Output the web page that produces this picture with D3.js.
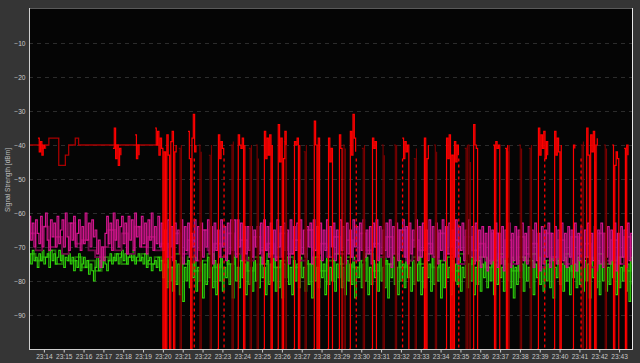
<!DOCTYPE html>
<html><head><meta charset="utf-8">
<script src="https://cdn.jsdelivr.net/npm/d3@7"></script>
<style>html,body{margin:0;padding:0;background:#353535;}svg{display:block;}</style>
</head><body>
<svg id="chart" width="640" height="363"></svg>
<script>
// ---- data ----
const startTime = "23:13:15";
const endTime = "23:43:39";
const sampleSeconds = 5;       // magenta / green sampling
const darkSampleSeconds = 20;  // companion series sampling
const baselineSeconds = 10;    // dark red baseline sampling
const redStepSeconds = 4;      // red burst sampling
const yTicks = [-10, -20, -30, -40, -50, -60, -70, -80, -90];
const yTitle = "Signal Strength [dBm]";

const magenta = [
  -61,-68,-63,-70,-62,-66,-69,-61,-70,-64,-60,-68,-71,-62,-67,-63,-70,-61,-69,-65,
  -62,-70,-60,-67,-71,-63,-68,-61,-70,-66,-62,-71,-64,-69,-60,-68,-63,-70,-62,-67,
  -65,-72,-68,-76,-70,-74,-66,-61,-69,-63,-71,-60,-68,-62,-70,-64,-61,-69,-63,-72,
  -61,-68,-62,-71,-60,-67,-64,-70,-61,-69,-63,-72,-62,-68,-60,-71,-64,-69,-61,-70,
  -63,-71,-65,-73,-62,-70,-64,-74,-63,-69,-65,-72,-62,-75,-64,-71,-63,-73,-66,-70,
  -62,-74,-64,-71,-63,-73,-65,-70,-62,-72,-64,-75,-63,-71,-65,-73,-62,-70,-64,-74,
  -63,-72,-62,-71,-62,-73,-62,-70,-63,-74,-64,-72,-64,-71,-64,-73,-65,-70,-64,-72,
  -63,-75,-62,-71,-64,-73,-63,-72,-65,-74,-62,-70,-64,-73,-63,-71,-65,-75,-62,-72,
  -64,-71,-63,-74,-62,-72,-65,-73,-64,-70,-63,-75,-62,-71,-64,-72,-63,-74,-65,-71,
  -62,-73,-64,-70,-63,-74,-65,-72,-62,-71,-64,-75,-63,-72,-65,-73,-62,-70,-64,-74,
  -63,-71,-62,-73,-65,-72,-64,-75,-63,-70,-62,-74,-64,-72,-65,-71,-63,-73,-62,-76,
  -64,-72,-63,-74,-65,-71,-62,-73,-64,-75,-63,-72,-65,-70,-62,-74,-64,-73,-63,-71,
  -65,-74,-62,-72,-64,-73,-63,-75,-65,-71,-62,-74,-64,-72,-63,-70,-65,-73,-62,-75,
  -64,-71,-63,-74,-65,-72,-62,-73,-64,-75,-63,-74,-65,-76,-64,-73,-66,-77,-64,-75,
  -65,-74,-63,-76,-66,-75,-64,-77,-65,-73,-63,-76,-66,-74,-64,-75,-65,-77,-63,-74,
  -66,-75,-64,-73,-65,-76,-63,-74,-66,-77,-64,-75,-65,-73,-63,-76,-66,-74,-64,-75,
  -65,-77,-63,-74,-66,-76,-64,-73,-65,-75,-63,-77,-66,-74,-64,-76,-65,-73,-63,-75,
  -66,-74,-64,-77,-65,-75,-63,-76,-66,-73,-64,-75,-65,-74,-63,-77,-66,-75,-64,-73,
  -65,-76,-63,-74,-66,-75
];

const green = [
  -72,-75,-71,-74,-73,-76,-72,-74,-71,-75,-73,-72,-76,-71,-74,-72,-75,-73,-71,-74,
  -72,-76,-73,-74,-72,-75,-73,-77,-74,-76,-72,-77,-75,-73,-76,-74,-78,-75,-77,-80,
  -76,-73,-77,-74,-76,-73,-75,-77,-74,-72,-75,-73,-74,-72,-75,-73,-71,-74,-72,-75,
  -73,-72,-74,-71,-75,-73,-72,-74,-73,-75,-72,-76,-74,-73,-77,-75,-74,-76,-73,-77,
  -74,-79,-75,-82,-73,-80,-76,-83,-74,-81,-75,-84,-73,-86,-76,-80,-74,-82,-75,-79,
  -73,-83,-76,-80,-74,-85,-75,-81,-73,-79,-76,-82,-74,-84,-75,-80,-73,-83,-76,-79,
  -74,-81,-75,-85,-73,-80,-76,-82,-74,-79,-75,-84,-73,-81,-76,-83,-74,-80,-75,-82,
  -73,-79,-76,-84,-74,-81,-75,-80,-73,-83,-76,-82,-74,-85,-75,-79,-73,-81,-76,-84,
  -74,-80,-75,-82,-73,-79,-76,-83,-74,-81,-75,-85,-73,-80,-76,-82,-74,-79,-75,-84,
  -73,-81,-76,-80,-74,-83,-75,-79,-73,-82,-76,-84,-74,-80,-75,-81,-73,-85,-76,-79,
  -74,-82,-75,-80,-73,-84,-76,-81,-74,-79,-75,-83,-73,-80,-76,-82,-74,-85,-75,-79,
  -73,-81,-76,-84,-74,-80,-75,-82,-73,-79,-76,-83,-74,-81,-75,-80,-73,-84,-76,-82,
  -74,-79,-75,-83,-73,-81,-76,-80,-74,-85,-75,-82,-73,-79,-76,-84,-74,-80,-75,-81,
  -73,-83,-76,-79,-74,-82,-75,-80,-73,-84,-76,-81,-74,-83,-75,-79,-73,-82,-76,-80,
  -74,-84,-75,-81,-73,-79,-76,-83,-74,-80,-75,-82,-73,-85,-76,-81,-74,-79,-75,-83,
  -73,-80,-76,-82,-74,-84,-75,-79,-73,-81,-76,-83,-74,-80,-75,-82,-73,-85,-76,-79,
  -74,-81,-75,-83,-73,-80,-76,-84,-74,-79,-75,-82,-73,-81,-76,-83,-74,-80,-75,-85,
  -73,-79,-76,-82,-74,-84,-75,-80,-73,-83,-76,-81,-74,-79,-75,-84,-73,-82,-76,-80,
  -74,-83,-75,-86,-73,-81
];

const darkMagenta = [
  -66,-71,-64,-70,-67,-72,-63,-69,-68,-71,
  -73,-70,-65,-71,-66,-72,-64,-70,-67,-71,
  -69,-73,-66,-72,-68,-74,-65,-71,-69,-73,
  -66,-72,-68,-74,-67,-71,-69,-73,-66,-72,
  -68,-74,-65,-71,-69,-73,-67,-72,-68,-74,
  -66,-71,-69,-73,-67,-72,-65,-74,-68,-71,
  -69,-73,-66,-72,-68,-75,-67,-71,-69,-74,
  -66,-73,-68,-75,-67,-72,-69,-76,-66,-73,
  -68,-75,-67,-72,-69,-76,-66,-74,-68,-75,-67,-73
];

const darkGreen = [
  -72,-74,-73,-71,-75,-72,-74,-73,-76,-74,
  -77,-73,-74,-72,-75,-73,-74,-72,-75,-73,
  -74,-76,-72,-75,-73,-77,-74,-72,-76,-73,
  -75,-72,-74,-77,-73,-75,-72,-76,-74,-73,
  -76,-72,-75,-73,-77,-74,-72,-75,-73,-76,
  -74,-72,-77,-73,-75,-72,-76,-74,-73,-75,
  -72,-76,-74,-73,-77,-72,-75,-74,-73,-76,
  -74,-72,-75,-77,-73,-74,-72,-76,-74,-73,
  -75,-72,-77,-74,-73,-76,-72,-75,-74,-73,-77,-74
];

// dark red baseline at the start of the capture
const darkRedBaseline = [
  -40,-40,-40,-40,-41,-40,-38,-38,-38,-46,-46,-43,-40,-40,-38,
  -40,-40,-40,-40,-40,-40,-40,-40,-40,-40,
  -40,-40,-40,-40,-40,-40,-40,-40,-40,-40,-40,-40,-40,-40,-40
];

// bright red bursts: start time + values every redStepSeconds
const redBurstStarts = [
  "23:13:42","23:17:29","23:18:36","23:19:36","23:21:16","23:22:44","23:23:44",
  "23:25:03","23:25:45","23:26:34","23:27:34","23:28:17","23:28:50","23:29:23",
  "23:30:30","23:32:04","23:33:07","23:34:14","23:35:36","23:36:39","23:37:15",
  "23:38:52","23:39:41","23:40:38","23:41:18","23:42:39","23:43:15"
];
const redBurstValues = [
  [-38,-42,-39,-43,-40,-41],
  [-41,-35,-44,-40,-46,-41,-43],
  [-37,-44,-40,-43],
  [-35,-40,-36,-43,-38,-41,-100,-42,-100,-37,-43,-100,-39,-36,-100,-42,-40],
  [-36,-44,-100,-38,-31,-42,-40],
  [-100,-37,-44,-39,-41,-43],
  [-100,-37,-40,-41,-38,-100,-40],
  [-100,-36,-44,-38,-43,-37,-100,-40],
  [-100,-34,-45,-38,-100,-44,-36,-40],
  [-100,-39,-40,-38,-100,-40],
  [-100,-33,-40,-100,-38,-100],
  [-100,-38,-45,-41,-100],
  [-100,-37,-41,-100],
  [-100,-36,-43,-31,-38,-42],
  [-100,-38,-41,-39,-100],
  [-38,-44,-39,-42,-40,-100],
  [-100,-38,-100,-44,-40],
  [-100,-38,-44,-37,-100,-43,-100,-39,-45,-40,-43],
  [-100,-34,-40,-41,-100],
  [-40,-100,-39,-41,-40,-100],
  [-41,-100,-40],
  [-100,-35,-43,-37,-41,-36,-44,-39,-43],
  [-100,-36,-43,-38,-42,-100,-40],
  [-100,-40,-41],
  [-100,-35,-43,-100,-37,-42,-36,-100,-40,-38],
  [-40,-100,-46,-42,-44,-100],
  [-41,-100,-40,-43]
];

// dark red dropouts
const darkRedStarts = [
  "23:20:48","23:21:48","23:22:19","23:23:25","23:24:20","23:24:41","23:26:06",
  "23:27:06","23:29:04","23:30:02","23:31:02","23:31:39","23:32:39","23:33:40",
  "23:35:13","23:35:22","23:37:20","23:37:57","23:38:27","23:41:04","23:41:44","23:42:14"
];
const darkRedValues = [
  [-41,-100,-40],[-40,-100,-42],[-43,-100,-40],[-40,-100,-39],[-41,-100,-40],
  [-40,-100,-44],[-39,-100,-40],[-42,-100,-40],[-40,-100,-41],[-41,-100,-40],
  [-40,-100,-43],[-40,-100,-40],[-44,-100,-41],[-40,-100,-42],[-41,-100,-40],
  [-40,-100,-45],[-42,-100,-40],[-40,-100,-41],[-41,-100,-40],[-40,-100,-39],
  [-45,-100,-40],[-40,-100,-41]
];

const redDashedTimes = ["23:21:35","23:23:05","23:29:45","23:32:05","23:34:55","23:39:15","23:41:05"];
const redDashedFrom = -44;
const redDashedTo = -100;

// ---- chart ----
const W = 640, H = 363;
const M = {left: 29, right: 632, top: 9, bottom: 349};
const parse = d3.timeParse("%H:%M:%S");
const t0 = parse(startTime), t1 = parse(endTime);

const x = d3.scaleTime().domain([t0, t1]).range([M.left, M.right]);
const y = d3.scaleLinear().domain([0, -100]).range([M.top, M.bottom]);

const svg = d3.select("#chart");
svg.append("rect").attr("width", W).attr("height", H).attr("fill", "#353535");
svg.append("rect").attr("x", M.left).attr("y", M.top)
  .attr("width", M.right - M.left).attr("height", M.bottom - M.top).attr("fill", "#050505");

svg.append("defs").append("clipPath").attr("id", "clip")
  .append("rect").attr("x", M.left).attr("y", M.top)
  .attr("width", M.right - M.left).attr("height", M.bottom - M.top);

// grid
svg.append("g").selectAll("line").data(yTicks).join("line")
  .attr("x1", M.left).attr("x2", M.right)
  .attr("y1", d => Math.round(y(d)) + 0.5).attr("y2", d => Math.round(y(d)) + 0.5)
  .attr("stroke", "#2c2c2c").attr("stroke-width", 1).attr("stroke-dasharray", "4,4");

function toPoints(vals, start, stepSec) {
  return vals.map((v, i) => ({t: new Date(start.getTime() + i * stepSec * 1000), v}));
}
const line = d3.line()
  .defined(d => d.v !== null)
  .x(d => x(d.t)).y(d => y(d.v))
  .curve(d3.curveStepAfter);

const plot = svg.append("g").attr("clip-path", "url(#clip)");
function draw(points, color, w) {
  plot.append("path").datum(points)
    .attr("d", line).attr("fill", "none")
    .attr("stroke", color).attr("stroke-width", w);
}
draw(toPoints(darkGreen, t0, darkSampleSeconds), "#1e6e08", 1.8);
draw(toPoints(green, t0, sampleSeconds), "#30d40c", 1.1);
draw(toPoints(darkMagenta, t0, darkSampleSeconds), "#6e0b48", 1.8);
draw(toPoints(magenta, t0, sampleSeconds), "#d3168e", 1.2);
draw(toPoints(darkRedBaseline, t0, baselineSeconds), "#a80000", 1.3);
darkRedStarts.forEach((s, k) => draw(toPoints(darkRedValues[k], parse(s), redStepSeconds), "#7a0000", 1.1));
redBurstStarts.forEach((s, k) => draw(toPoints(redBurstValues[k], parse(s), redStepSeconds), "#ff0000", 1.2));

plot.append("g").selectAll("line").data(redDashedTimes).join("line")
  .attr("x1", d => x(parse(d))).attr("x2", d => x(parse(d)))
  .attr("y1", y(redDashedFrom)).attr("y2", y(redDashedTo))
  .attr("stroke", "#ff0000").attr("stroke-width", 1.3).attr("stroke-dasharray", "3,3");

// frame
svg.append("line").attr("x1", M.left).attr("x2", M.right).attr("y1", M.top - 0.5).attr("y2", M.top - 0.5)
  .attr("stroke", "#5a5a5a");
svg.append("line").attr("x1", M.right + 0.5).attr("x2", M.right + 0.5).attr("y1", M.top - 1).attr("y2", M.bottom)
  .attr("stroke", "#e8e8e8");

// axes
const font = "'Liberation Sans', Arial, sans-serif";
const yAxis = svg.append("g").attr("transform", `translate(${M.left + 0.5},0)`)
  .call(d3.axisLeft(y).tickValues(yTicks).tickSize(0).tickPadding(4));
yAxis.select(".domain").attr("stroke", "#cfcfcf").attr("d", `M0,${M.top - 1}V${M.bottom}`);
yAxis.selectAll("text").attr("fill", "#c8c8c8").attr("font-size", "6.6px").attr("font-family", font);

const xAxis = svg.append("g").attr("transform", `translate(0,${M.bottom + 0.5})`)
  .call(d3.axisBottom(x).ticks(d3.timeMinute.every(1)).tickFormat(d3.timeFormat("%H:%M")).tickSize(3).tickPadding(2));
xAxis.select(".domain").attr("stroke", "#cfcfcf").attr("d", `M${M.left},0H${M.right + 1}`);
xAxis.selectAll(".tick line").attr("stroke", "#cfcfcf");
xAxis.selectAll("text").attr("fill", "#c8c8c8").attr("font-size", "6.6px").attr("font-family", font);

svg.append("text")
  .attr("transform", `translate(10,${(M.top + M.bottom) / 2 + 1}) rotate(-90)`)
  .attr("text-anchor", "middle")
  .attr("fill", "#c0c0c0").attr("font-size", "6.6px").attr("font-family", font)
  .text(yTitle);
</script>
</body></html>
